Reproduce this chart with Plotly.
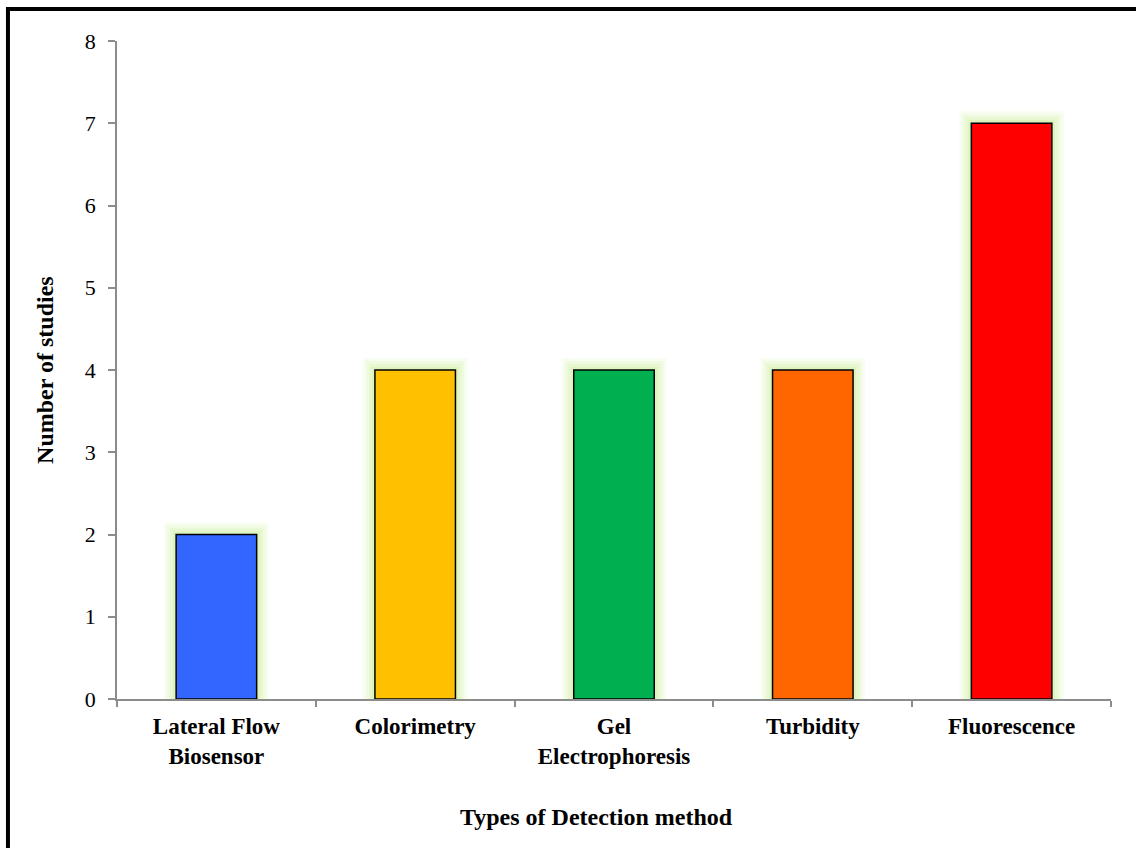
import plotly.graph_objects as go

# Detection methods and number of studies using each
categories = ["Lateral Flow<br>Biosensor", "Colorimetry", "Gel<br>Electrophoresis", "Turbidity", "Fluorescence"]
studies = [2, 4, 4, 4, 7]
bar_colors = ["#3366FF", "#FFC000", "#00B050", "#FF6600", "#FF0000"]
y_ticks = [0, 1, 2, 3, 4, 5, 6, 7, 8]

FONT = "Liberation Serif, Times New Roman, serif"
BAR_W = 0.405

fig = go.Figure()

# soft green glow behind each bar, built from layered translucent outlines
for lw, alpha in [(24, 0.12), (18, 0.16), (12, 0.2), (6, 0.24)]:
    fig.add_trace(go.Bar(
        x=categories, y=studies, width=BAR_W,
        marker=dict(color="rgba(0,0,0,0)",
                    line=dict(color=f"rgba(196,236,140,{alpha})", width=lw)),
        hoverinfo="skip", showlegend=False,
    ))

fig.add_trace(go.Bar(
    x=categories, y=studies, width=BAR_W,
    marker=dict(color=bar_colors, line=dict(color="#000000", width=1.5)),
    showlegend=False,
))

axis_grey = "#8c8c8c"
fig.update_layout(
    width=1136, height=848,
    margin=dict(l=117, r=25, t=41, b=149),
    paper_bgcolor="white", plot_bgcolor="white",
    barmode="overlay",
    font=dict(family=FONT, color="black", size=22),
    xaxis=dict(
        showline=True, linecolor=axis_grey, linewidth=1.5,
        ticks="outside", tickcolor=axis_grey, ticklen=6, tickwidth=1.5,
        tickson="boundaries", showgrid=False, ticklabelstandoff=6,
        tickfont=dict(family=FONT, size=23, color="black", weight="bold"),
        range=[-0.5, 4.5],
    ),
    yaxis=dict(
        showline=True, linecolor=axis_grey, linewidth=1.5,
        ticks="outside", tickcolor=axis_grey, ticklen=7, tickwidth=1.5,
        tickvals=y_ticks, range=[0, 8], showgrid=False, zeroline=False,
        ticklabelstandoff=8,
        tickfont=dict(family=FONT, size=22, color="black"),
    ),
    annotations=[
        dict(text="<b>Types of Detection method</b>", xref="paper", yref="paper",
             x=0.482, y=-0.179, xanchor="center", yanchor="middle",
             showarrow=False, font=dict(family=FONT, size=24)),
        dict(text="<b>Number of studies</b>", xref="paper", yref="paper",
             x=-0.0725, y=0.5, xanchor="center", yanchor="middle",
             textangle=-90, showarrow=False, font=dict(family=FONT, size=24)),
    ],
    shapes=[
        dict(type="rect", xref="paper", yref="paper",
             x0=-0.1097, x1=1.04, y0=-0.26, y1=1.0486,
             line=dict(color="black", width=4), fillcolor="rgba(0,0,0,0)",
             layer="above"),
    ],
)

fig.write_html("out.html")
